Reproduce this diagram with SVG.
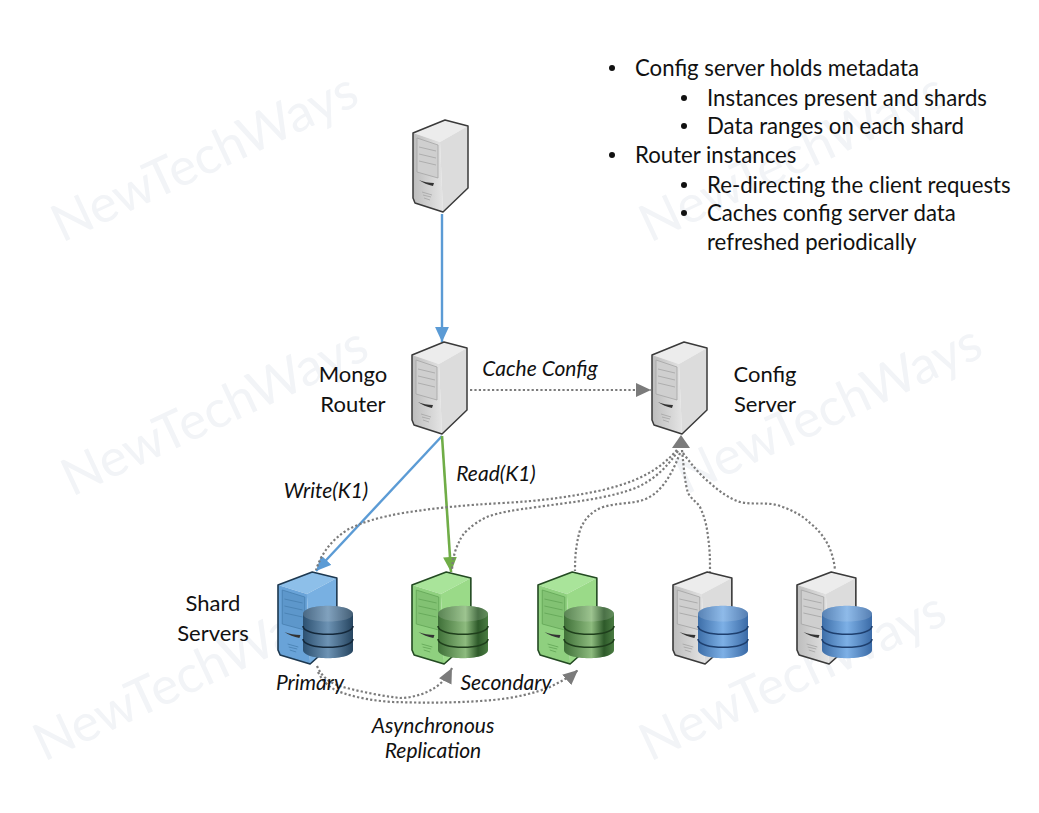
<svg xmlns="http://www.w3.org/2000/svg" xmlns:xlink="http://www.w3.org/1999/xlink" width="1039" height="813" viewBox="0 0 1039 813">
<style>
text{font-family:Lato,"Liberation Sans",sans-serif;fill:#111}
.n{font-size:22px;text-anchor:middle}
.i{font-size:21px;font-style:italic;text-anchor:middle}
.b{font-size:22.2px}
.w{font-size:52px;fill:#f2f4f7}
.dot{fill:none;stroke:#7b7b7b;stroke-width:2.2;stroke-dasharray:2.2 2.2}
.bl{fill:none;stroke:#5b9bd5;stroke-width:2.4}
.gr{fill:none;stroke:#70ad47;stroke-width:2.6}
.gs{--f:url(#gf);--s:#dcdcdc;--t:#ececec;--p:#cfcfcf;--l:#a4a4a4;--e:#3a3a3a}
.bs{--f:#69a3d8;--s:#78b0e2;--t:#8dbfe9;--p:#5d97cb;--l:#4880b0;--e:#1d3850}
.ns{--f:#8fd07f;--s:#9ada88;--t:#a9e49a;--p:#82c273;--l:#62a556;--e:#234a22}
</style>
<defs>
<linearGradient id="gf" x1="0" y1="0" x2="1" y2="0"><stop offset="0" stop-color="#bdbdbd"/><stop offset="1" stop-color="#e4e4e4"/></linearGradient>
<linearGradient id="dbB" x1="0" y1="0" x2="1" y2="0"><stop offset="0" stop-color="#3d6ea8"/><stop offset=".5" stop-color="#7db0e6"/><stop offset="1" stop-color="#3a6aa6"/></linearGradient>
<linearGradient id="dbD" x1="0" y1="0" x2="1" y2="0"><stop offset="0" stop-color="#2c5070"/><stop offset=".5" stop-color="#6d93b4"/><stop offset="1" stop-color="#25445f"/></linearGradient>
<linearGradient id="dbG" x1="0" y1="0" x2="1" y2="0"><stop offset="0" stop-color="#3f7038"/><stop offset=".55" stop-color="#8dbb7e"/><stop offset=".8" stop-color="#2e5a2a"/><stop offset="1" stop-color="#4a7c42"/></linearGradient>
<g id="srv">
<path d="M0 13 L32 0 L55 6 L27 22 Z" fill="var(--t)"/>
<path d="M0 13 L27 22 L30 92 L2 83 L0 78 Z" fill="var(--f)"/>
<path d="M27 22 L55 6 V68 L30 92 Z" fill="var(--s)"/>
<path d="M4 18 L25 25 V58 L4 52 Z" fill="var(--p)" stroke="var(--l)" stroke-width=".8"/>
<path d="M6 27 L23 31 M6 34 L23 38 M6 41 L23 45" stroke="var(--l)" stroke-width=".8" fill="none"/>
<path d="M6 60 C10 62 16 63 21 63 L20 66 C15 65 10 63 6 60 Z" fill="#333"/>
<path d="M9 72 L19 75 M10 75 L18 77 M11 78 L17 80" stroke="var(--l)" stroke-width=".8" fill="none"/>
<path d="M0 13 L32 0 L55 6 V68 L30 92 L2 83 L0 78 Z" fill="none" stroke="var(--e)" stroke-width="1.5" stroke-linejoin="round"/>
</g>
<g id="db">
<path d="M0 8 C0 -3 50 -3 50 8 V44 C50 55 0 55 0 44 Z" fill="var(--db)"/>
<path d="M0 8 C0 18 50 18 50 8 C50 -3 0 -3 0 8 Z" fill="#fff" fill-opacity=".14"/>
<path d="M0 20 C0 31 50 31 50 20 M0 33 C0 44 50 44 50 33" fill="none" stroke="var(--dbe)" stroke-width="1.6"/>
</g>
<marker id="ab" markerWidth="15" markerHeight="14" refX="13" refY="6" orient="auto" markerUnits="userSpaceOnUse" viewBox="0 0 13 12"><path d="M0 0 L13 6 L0 12 Z" fill="#5b9bd5"/></marker>
<marker id="ag" markerWidth="15" markerHeight="14" refX="13" refY="6" orient="auto" markerUnits="userSpaceOnUse" viewBox="0 0 13 12"><path d="M0 0 L13 6 L0 12 Z" fill="#70ad47"/></marker>
<marker id="ad" markerWidth="15" markerHeight="14" refX="13" refY="6" orient="auto" markerUnits="userSpaceOnUse" viewBox="0 0 13 12"><path d="M0 0 L13 6 L0 12 Z" fill="#7b7b7b"/></marker>
</defs>
<rect width="1039" height="813" fill="#fff"/>
<g id="watermarks">
<text class="w" transform="translate(62 243) rotate(-25)">NewTechWays</text>
<text class="w" transform="translate(650 243) rotate(-25)">NewTechWays</text>
<text class="w" transform="translate(72 497) rotate(-25)">NewTechWays</text>
<text class="w" transform="translate(686 495) rotate(-25)">NewTechWays</text>
<text class="w" transform="translate(44 762) rotate(-25)">NewTechWays</text>
<text class="w" transform="translate(650 762) rotate(-25)">NewTechWays</text>
</g>
<g id="connectors">
<path class="bl" d="M442 214 V342" marker-end="url(#ab)"/>
<path class="bl" d="M442 436 L316 571" marker-end="url(#ab)"/>
<path class="gr" d="M442 436 L451 572" marker-end="url(#ag)"/>
<path class="dot" d="M470 390 H651" marker-end="url(#ad)"/>
<path class="dot" d="M677 450 C655 475 630 483 603 490 C570 497 540 501 503 503 C465 505 435 508 403 513 C380 517 362 522 347 530 C332 540 322 552 316 570"/>
<path class="dot" d="M678 451 C660 478 640 488 620 493 C595 500 565 503 537 507 C515 510 500 512 487 517 C470 525 462 535 460 540 C456 548 453 555 452 570"/>
<path class="dot" d="M680 453 C670 480 658 495 643 500 C630 504 616 503 603 507 C590 512 584 520 580 530 C576 545 575 555 575 571"/>
<path class="dot" d="M682 450 C684 470 685 483 688 493 C692 500 697 502 700 507 C705 518 707 527 708 537 C710 550 710 560 710 572"/>
<path class="dot" d="M683 453 C692 465 700 475 710 483 C720 492 730 499 740 502 C752 505 765 502 777 505 C790 509 802 515 810 523 C825 535 833 550 835 570"/>
<path d="M672 448 L681 435 L690 448 Z" fill="#7b7b7b"/>
<path class="dot" d="M317 666 C322 678 332 684 343 687 C362 692 382 696 400 698 C410 698 420 695 427 692 C438 687 446 680 452 668" marker-end="url(#ad)"/>
<path class="dot" d="M318 672 C324 684 333 690 343 693 C358 698 375 701 393 702 C425 703 460 703 493 700 C515 698 535 693 550 687 C560 682 570 677 578 670" marker-end="url(#ad)"/>
</g>
<g id="client" class="gs"><use xlink:href="#srv" transform="translate(413 120)"/></g>
<g id="router" class="gs"><use xlink:href="#srv" transform="translate(412 342)"/></g>
<g id="config" class="gs"><use xlink:href="#srv" transform="translate(652 342)"/></g>
<g id="shard1" class="bs" style="--db:url(#dbD);--dbe:#14283a"><use xlink:href="#srv" transform="translate(278 572) scale(1.07 1)"/><use xlink:href="#db" transform="translate(303 606)"/></g>
<g id="shard2" class="ns" style="--db:url(#dbG);--dbe:#1f3f1c"><use xlink:href="#srv" transform="translate(412 572) scale(1.07 1)"/><use xlink:href="#db" transform="translate(438 606)"/></g>
<g id="shard3" class="ns" style="--db:url(#dbG);--dbe:#1f3f1c"><use xlink:href="#srv" transform="translate(538 572) scale(1.07 1)"/><use xlink:href="#db" transform="translate(564 606)"/></g>
<g id="shard4" class="gs" style="--db:url(#dbB);--dbe:#1e3f6e"><use xlink:href="#srv" transform="translate(673 572) scale(1.07 1)"/><use xlink:href="#db" transform="translate(698 606)"/></g>
<g id="shard5" class="gs" style="--db:url(#dbB);--dbe:#1e3f6e"><use xlink:href="#srv" transform="translate(797 572) scale(1.07 1)"/><use xlink:href="#db" transform="translate(822 606)"/></g>
<g id="labels">
<text class="n" x="353" y="382">Mongo</text>
<text class="n" x="353" y="412">Router</text>
<text class="n" x="765" y="382">Config</text>
<text class="n" x="765" y="412">Server</text>
<text class="n" x="213" y="611">Shard</text>
<text class="n" x="213" y="641">Servers</text>
<text class="i" x="540" y="376">Cache Config</text>
<text class="i" x="496" y="481">Read(K1)</text>
<text class="i" x="326" y="498">Write(K1)</text>
<text class="i" x="310" y="690">Primary</text>
<text class="i" x="506" y="690">Secondary</text>
<text class="i" x="433" y="733">Asynchronous</text>
<text class="i" x="433" y="758">Replication</text>
</g>
<g id="notes">
<circle cx="612" cy="68" r="3" fill="#111"/><text class="b" x="635" y="76">Config server holds metadata</text>
<circle cx="684" cy="98" r="3" fill="#111"/><text class="b" x="707" y="106">Instances present and shards</text>
<circle cx="684" cy="126" r="3" fill="#111"/><text class="b" x="707" y="134">Data ranges on each shard</text>
<circle cx="612" cy="155" r="3" fill="#111"/><text class="b" x="635" y="163">Router instances</text>
<circle cx="684" cy="185" r="3" fill="#111"/><text class="b" x="707" y="193">Re-directing the client requests</text>
<circle cx="684" cy="213" r="3" fill="#111"/><text class="b" x="707" y="221">Caches config server data</text>
<text class="b" x="707" y="250">refreshed periodically</text>
</g>
</svg>
